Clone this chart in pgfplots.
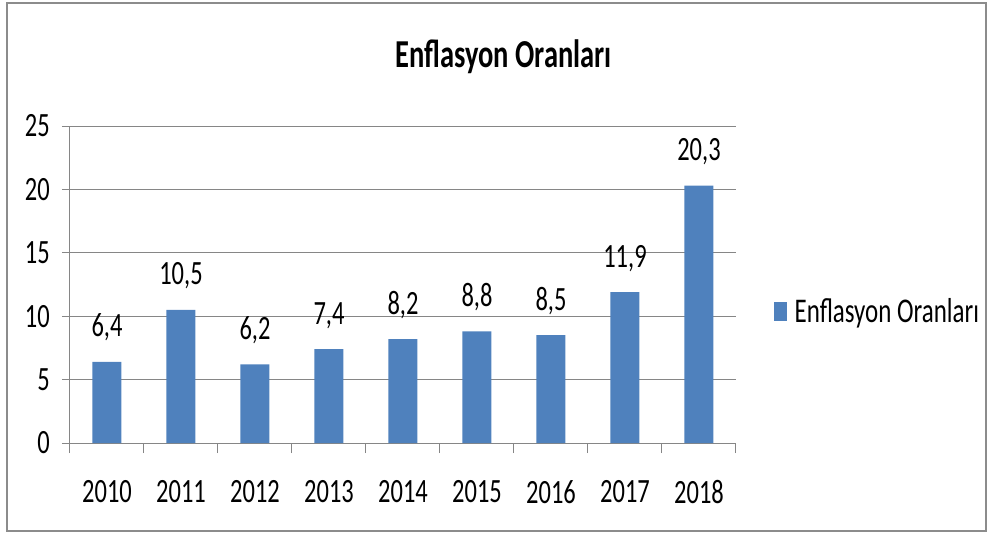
\documentclass[border=0pt]{standalone}
\usepackage{fontspec}
\setmainfont[FakeStretch=0.72]{Carlito}
\usepackage{pgfplots}
\pgfplotsset{compat=1.18}
\definecolor{barblue}{HTML}{4F81BD}
\definecolor{gridgray}{HTML}{868686}
\definecolor{framegray}{HTML}{8C8C8C}
\begin{document}
\begin{tikzpicture}
\path[use as bounding box] (0pt,0pt) rectangle (742.5pt,-399.75pt);
\draw[framegray, line width=1.5pt] (5.25pt,-2.25pt) rectangle (739.5pt,-398.25pt);
\node[anchor=base, inner sep=0pt, font=\bfseries\fontsize{29.7}{32}\selectfont] at (377.6pt,-50.25pt) {Enflasyon Oranları};
\begin{axis}[
  at={(52.5pt,-332.25pt)}, anchor=south west,
  scale only axis, width=499.5pt, height=237.75pt,
  xmin=-0.5, xmax=8.5, ymin=0, ymax=25,
  ybar, bar width=21.75pt, bar shift=0pt,
  xtick={0,...,8},
  xticklabels={2010,2011,2012,2013,2014,2015,2016,2017,2018},
  minor xtick={-0.5,0.5,...,8.5},
  ytick={0,5,...,25},
  tick align=outside,
  major tick length=6pt, minor tick length=7.5pt,
  x tick style={draw=none},
  minor x tick style={draw=gridgray, line width=0.75pt},
  y tick style={draw=gridgray, line width=0.75pt},
  axis x line*=bottom, axis y line*=left,
  axis line style={draw=gridgray, line width=0.75pt, -},
  ymajorgrids, major grid style={draw=gridgray, line width=0.75pt},
  /pgf/number format/assume math mode=true,
  ticklabel style={font=\fontsize{25.5}{28}\selectfont, inner sep=0pt},
  xticklabel style={anchor=north, yshift=-22pt},
  yticklabel style={anchor=east, xshift=-9pt},
  nodes near coords={\pgfmathprintnumber[use comma,fixed,fixed zerofill,precision=1,assume math mode=true]{\pgfplotspointmeta}},
  every node near coord/.append style={font=\fontsize{25.5}{28}\selectfont, anchor=base, inner sep=0pt, yshift=18.75pt, black},
  legend style={at={(1,0.5)}, anchor=west, xshift=28.5pt, yshift=-20pt, draw=none, fill=none, inner sep=0pt,
    font=\fontsize{26}{28}\selectfont, /tikz/every odd column/.style={column sep=3.5pt}},
  legend image code/.code={\fill[barblue] (0pt,-7.1pt) rectangle (9.75pt,7.1pt);},
]
\addplot[fill=barblue, draw=none] coordinates {(0,6.4) (1,10.5) (2,6.2) (3,7.4) (4,8.2) (5,8.8) (6,8.5) (7,11.9) (8,20.3)};
\addlegendentry{Enflasyon Oranları}
\end{axis}
\end{tikzpicture}
\end{document}
